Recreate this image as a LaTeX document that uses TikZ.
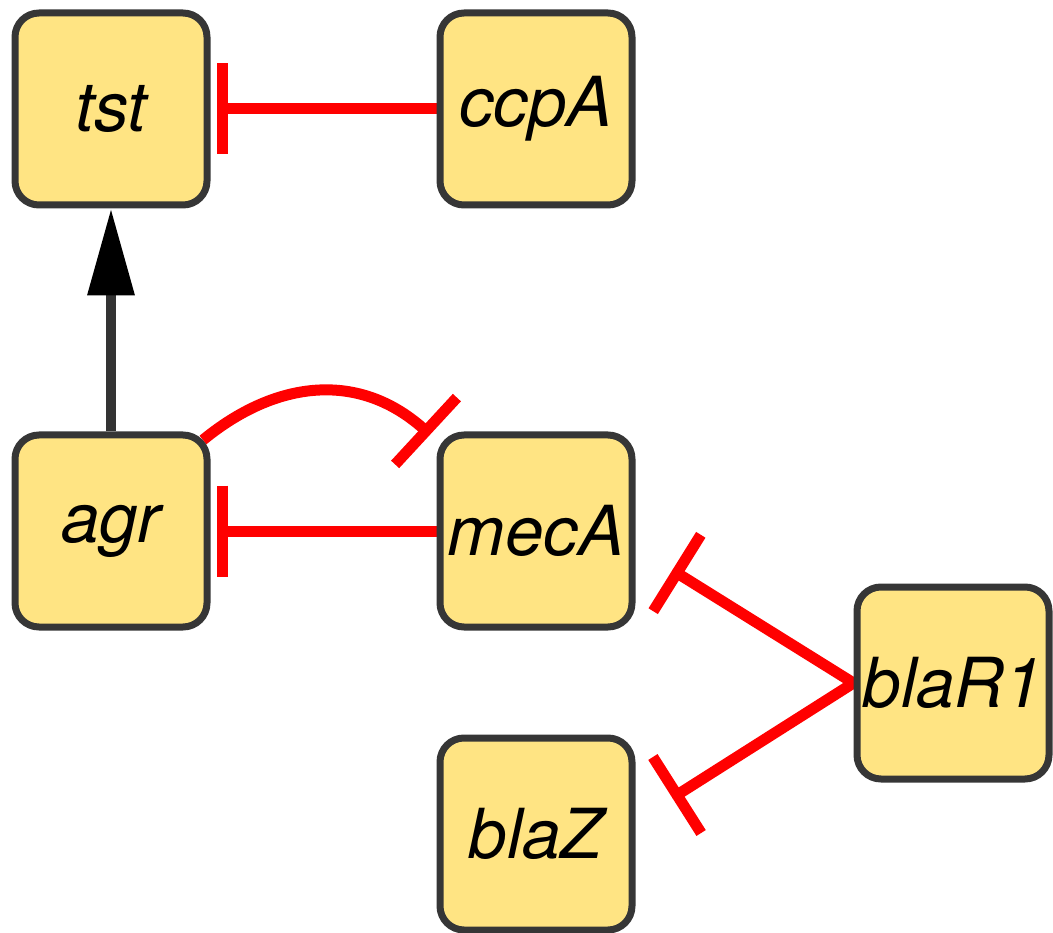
\documentclass[tikz,border=0pt]{standalone}
\usepackage{fontspec}
\setmainfont{TeX Gyre Heros}
\usetikzlibrary{arrows.meta,calc,backgrounds}
\definecolor{boxfill}{HTML}{FFE483}
\definecolor{boxline}{HTML}{363636}
\definecolor{inhred}{HTML}{FF0000}
\definecolor{actline}{HTML}{333333}
\tikzset{
  gene/.style={draw=boxline, fill=boxfill, line width=7pt, rounded corners=24pt,
    minimum width=192pt, minimum height=192pt, inner sep=0pt,
    font=\fontsize{69}{82}\selectfont\itshape},
  inh/.style={draw=inhred, line width=11pt},
  inhbar/.style={draw=inhred, line width=11pt},
  act/.style={draw=actline, line width=10pt, -{Triangle[length=87pt,width=45pt,color=black]}}
}
\begin{document}
\begin{tikzpicture}[x=1pt,y=-1pt]
\useasboundingbox (0,0) rectangle (1053,933);
\node[gene] (tst) at (111,109) {tst};
\node[gene] (ccpA) at (536,109) {ccpA};
\node[gene] (agr) at (111,531) {agr};
\node[gene] (mecA) at (536,531) {mecA};
\node[gene] (blaR1) at (953,683) {blaR1};
\node[gene] (blaZ) at (536,834) {blaZ};
\coordinate (tstE) at (222,109);
\coordinate (agrE) at (222,531);
\coordinate (agrC) at (203,440);
\coordinate (c1) at (276,380);
\coordinate (c2) at (360,370);
\coordinate (mecAE) at (426,431);
\coordinate (mecAE2) at (677,573);
\coordinate (blaZE) at (677,795);
\begin{scope}[on background layer]
% ccpA -| tst
\draw[inh] (ccpA.west) -- (tstE);
\draw[inhbar] ($(tstE)!45.5pt!90:(ccpA.west)$) -- ($(tstE)!45.5pt!-90:(ccpA.west)$);
% agr -> tst
\draw[act] (agr.north) -- (tst.south);
% mecA -| agr
\draw[inh] (mecA.west) -- (agrE);
\draw[inhbar] ($(agrE)!45.5pt!90:(mecA.west)$) -- ($(agrE)!45.5pt!-90:(mecA.west)$);
% agr -| mecA (curved)
\draw[inh] (agrC) .. controls (c1) and (c2) .. (mecAE);
\draw[inhbar] ($(mecAE)!45.5pt!90:(c2)$) -- ($(mecAE)!45.5pt!-90:(c2)$);
% blaR1 -| mecA
\draw[inh, line cap=round] (blaR1.west) -- (mecAE2);
\draw[inhbar] ($(mecAE2)!45pt!90:(blaR1.west)$) -- ($(mecAE2)!45pt!-90:(blaR1.west)$);
% blaR1 -| blaZ
\draw[inh, line cap=round] (blaR1.west) -- (blaZE);
\draw[inhbar] ($(blaZE)!45pt!90:(blaR1.west)$) -- ($(blaZE)!45pt!-90:(blaR1.west)$);
\end{scope}
\end{tikzpicture}
\end{document}
